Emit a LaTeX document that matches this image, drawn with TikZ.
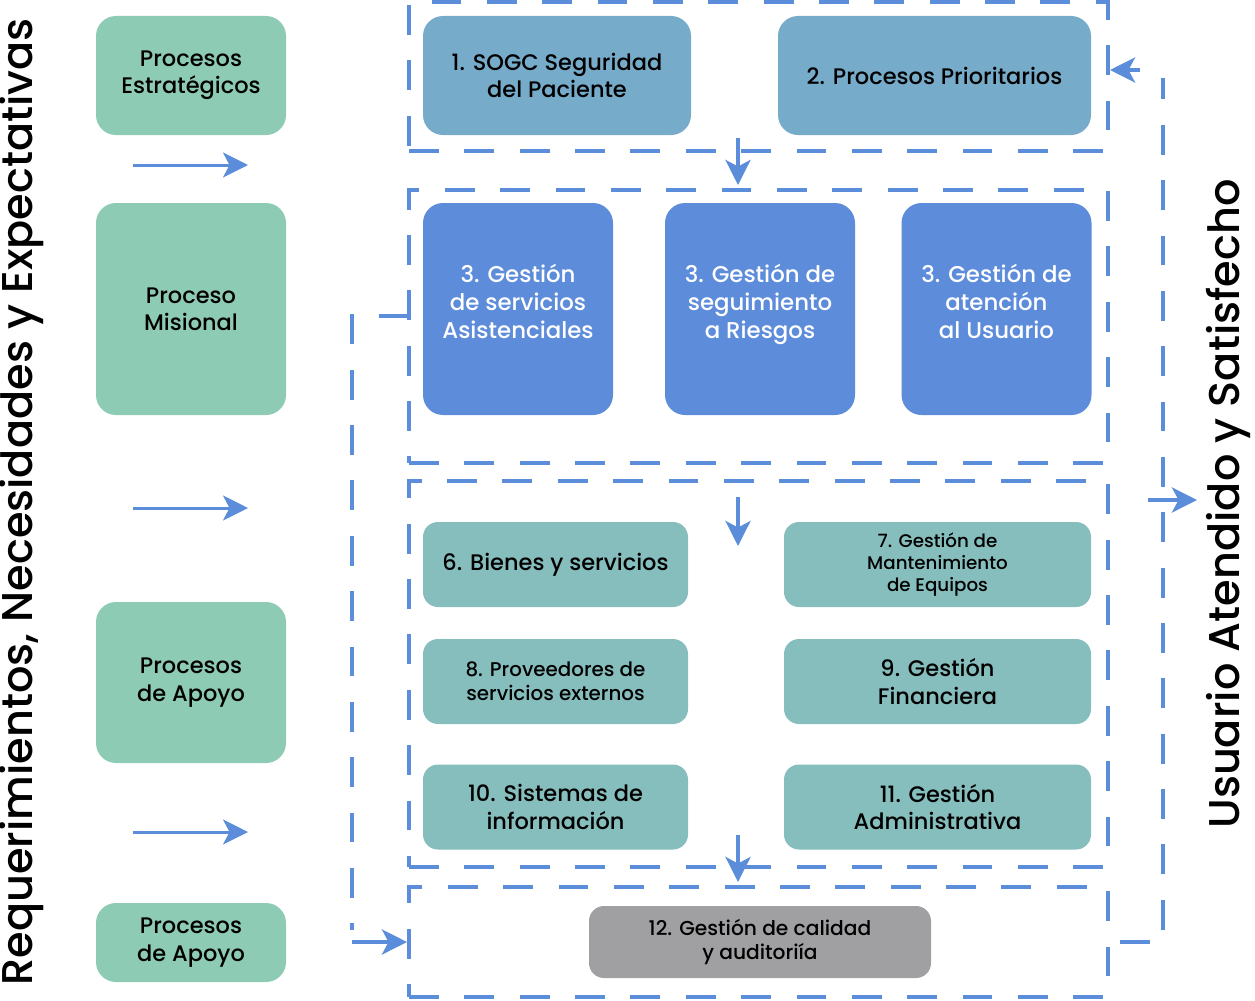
\documentclass[tikz,border=0pt]{standalone}
\usepackage{fontspec}
\setmainfont{Poppins}[UprightFont={* Medium}]
\usetikzlibrary{arrows.meta}
\definecolor{verde}{HTML}{8ECBB5}
\definecolor{acero}{HTML}{77ABCA}
\definecolor{azul}{HTML}{5D8CDB}
\definecolor{turquesa}{HTML}{86BDBD}
\definecolor{gris}{HTML}{A0A0A2}
\definecolor{linea}{HTML}{5B8DDB}
\tikzset{
  caja/.style={rectangle, rounded corners=4mm, inner sep=0pt, align=center, font=\fontsize{12.8}{15.5}\selectfont},
  izq/.style={caja, fill=verde, minimum width=38mm},
  sup/.style={caja, fill=acero, minimum height=23.8mm},
  mision/.style={caja, fill=azul, text=white, minimum width=38mm, minimum height=42.4mm, text depth=3mm, font=\fontsize{13}{15.8}\selectfont},
  apoyo/.style={caja, fill=turquesa, rounded corners=3mm, minimum height=17mm},
  chico/.style={font=\fontsize{10.4}{12.6}\selectfont},
  marco/.style={draw=linea, line width=0.8mm, dash pattern=on 17pt off 14.5pt, minimum width=139.8mm, inner sep=0pt},
  flecha/.style={draw=linea, line width=0.8mm, -{Stealth[length=5mm,width=5mm,inset=1.3mm]}},
  guion/.style={draw=linea, line width=0.8mm, dash pattern=on 17pt off 14.5pt}
}
\begin{document}
\begin{tikzpicture}[x=0.2mm,y=-0.2mm]
    \useasboundingbox (0,0) rectangle (1255,1000);
    % marcos punteados
    \node[marco, minimum height=29.8mm] (frA) at (758.5,76.5) {};
    \node[marco, minimum height=54.6mm] (frB) at (758.5,326.5) {};
    \node[marco, minimum height=77.2mm] (frC) at (758.5,674) {};
    \node[marco, minimum height=22mm] (frD) at (758.5,942) {};
    % columna izquierda
    \node[izq, minimum height=23.8mm] (est) at (191,75.5) {Procesos\\Estratégicos};
    \node[izq, minimum height=42.4mm] (mis) at (191,309) {Proceso\\Misional};
    \node[izq, minimum height=32.2mm] (apoA) at (191,682.5) {Procesos\\de Apoyo};
    \node[izq, minimum height=15.8mm] (apoB) at (191,942.5) {Procesos\\de Apoyo};
    \foreach \y in {165,508,832}{
    \draw[flecha, line width=0.6mm] (133,\y) -- (248,\y);
    }
    % estrategicos
    \node[sup, minimum width=53.6mm] (sogc) at (557,75.5) {1. SOGC Seguridad\\del Paciente};
    \node[sup, minimum width=62.6mm] (prio) at (934.5,75.5) {2. Procesos Prioritarios};
    % misionales
    \node[mision] (asis) at (518,309) {3. Gestión\\de servicios\\Asistenciales};
    \node[mision] (ries) at (760,309) {3. Gestión de\\seguimiento\\a Riesgos};
    \node[mision] (usu) at (996.5,309) {3. Gestión de\\atención\\al Usuario};
    % apoyo
    \node[apoyo, minimum width=53mm] (bie) at (555.5,564.5) {6. Bienes y servicios};
    \node[apoyo, chico, minimum width=61.4mm] (man) at (937.5,564.5) {7. Gestión de\\Mantenimiento\\de Equipos};
    \node[apoyo, minimum width=53mm, font=\fontsize{11.3}{13.6}\selectfont] (prov) at (555.5,681.5) {8. Proveedores de\\servicios externos};
    \node[apoyo, minimum width=61.4mm] (fin) at (937.5,681.5) {9. Gestión\\Financiera};
    \node[apoyo, minimum width=53mm] (sis) at (555.5,807) {10. Sistemas de\\información};
    \node[apoyo, minimum width=61.4mm] (adm) at (937.5,807) {11. Gestión\\Administrativa};
    % calidad
    \node[caja, fill=gris, rounded corners=3mm, minimum width=68.4mm, minimum height=14.4mm, font=\fontsize{11.5}{14}\selectfont] (cal) at (760,942) {12. Gestión de calidad\\y auditoriía};
    % flechas entre marcos
    \draw[flecha] (738,138) -- (738,185);
    \draw[flecha] (738,497) -- (738,546);
    \draw[flecha] (738,835) -- (738,882);
    % retroalimentacion
    \coordinate (misOut) at (409,316);
    \coordinate (calOut) at (1120,942);
    \coordinate (prioIn) at (1110,70);
    \draw[guion] (misOut) -- (352,316) -- (352,930);
    \draw[flecha] (352,942) -- (frD.west);
    \draw[guion] (calOut) -- (1163,942) -- (1163,78);
    \draw[flecha] (1140,70) -- (prioIn);
    \draw[flecha] (1148,500) -- (1197,500);
    % textos laterales
    \node[rotate=90, font=\fontsize{24.5}{28}\selectfont] (req) at (22,502) {Requerimientos, Necesidades y Expectativas};
    \node[rotate=90, font=\fontsize{24.5}{28}\selectfont] (sat) at (1228,504) {Usuario Atendido y Satisfecho};
\end{tikzpicture}
\end{document}
